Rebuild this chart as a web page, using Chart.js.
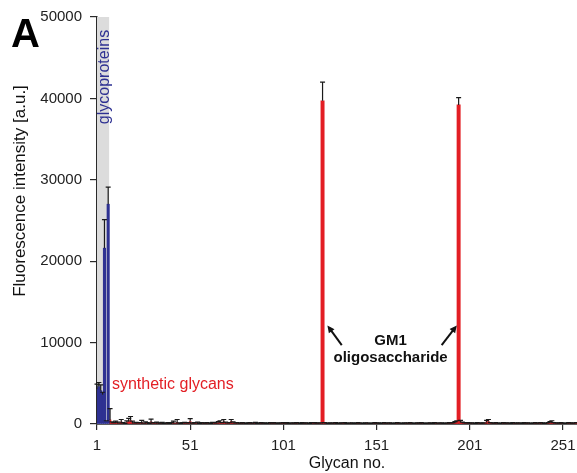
<!DOCTYPE html>
<html><head><meta charset="utf-8">
<script src="https://cdn.jsdelivr.net/npm/chart.js@4.4.1/dist/chart.umd.min.js"></script>
<style>html,body{margin:0;padding:0;background:#fff}#wrap{width:577px;height:473px}</style>
</head><body><div id="wrap"><canvas id="c" width="577" height="473"></canvas></div>
<script>
const xTickLabels = [1, 51, 101, 151, 201, 251];
const yTickLabels = [0, 10000, 20000, 30000, 40000, 50000];

const glycoproteinIds = [1, 2, 3, 4, 5, 6, 7];
const glycoproteinValues = [4300, 4600, 4100, 3600, 21600, 300, 27000];
const glycoproteinErrors = [600, 500, 700, 300, 3500, 100, 2100];

const syntheticFirstId = 8;
const syntheticValues = [
  500,150,80,200,120,60,250,90,40,180,
  300,420,150,70,110,60,90,200,50,130,
  80,40,260,90,60,120,70,50,100,30,
  60,90,40,80,150,60,200,70,40,90,
  110,60,80,300,50,90,60,120,40,80,
  70,50,90,60,40,110,80,60,150,200,
  90,250,120,60,80,300,140,70,90,60,
  50,80,60,40,70,90,50,60,110,40,
  60,80,50,70,40,60,90,50,80,60,
  40,70,60,90,50,80,40,60,70,50,
  90,60,40,80,50,70,60,40,90,60,
  80,50,60,70,null,90,60,40,70,50,
  60,80,40,50,70,60,90,40,60,50,
  70,40,60,80,50,60,40,70,60,50,
  40,60,90,50,70,40,60,80,50,60,
  70,50,40,60,80,50,60,40,70,60,
  50,80,60,40,60,70,50,90,60,40,
  60,50,70,40,80,60,50,60,70,40,
  60,50,80,60,90,150,200,null,250,120,
  80,60,90,50,70,60,40,80,60,50,
  70,60,250,300,90,60,50,80,60,40,
  60,80,50,70,60,40,90,60,50,70,
  60,40,80,50,70,60,40,60,80,50,
  60,90,70,40,60,80,150,200,90,60,
  70,50,80,60,40,60,90,70,50,60,
  80
];
const syntheticErrors = [
  1400,100,80,150,100,60,300,80,40,200,
  400,500,200,60,100,60,80,250,50,120,
  80,40,350,80,60,100,60,50,100,30,
  60,80,40,80,200,60,350,60,40,80,
  100,60,80,350,50,80,60,120,40,80,
  60,50,80,60,40,100,80,60,150,200,
  80,300,100,60,80,250,120,60,80,60,
  50,80,60,40,60,80,50,60,100,40,
  60,80,50,60,40,60,80,50,80,60,
  40,60,60,80,50,80,40,60,60,50,
  80,60,40,80,50,60,60,40,80,60,
  80,50,60,60,null,80,60,40,60,50,
  60,80,40,50,60,60,80,40,60,50,
  60,40,60,80,50,60,40,60,60,50,
  40,60,80,50,60,40,60,80,50,60,
  60,50,40,60,80,50,60,40,60,60,
  50,80,60,40,60,60,50,80,60,40,
  60,50,60,40,80,60,50,60,60,40,
  60,50,80,60,80,150,200,null,200,100,
  80,60,80,50,60,60,40,80,60,50,
  60,60,200,250,80,60,50,80,60,40,
  60,80,50,60,60,40,80,60,50,60,
  60,40,80,50,60,60,40,60,80,50,
  60,80,60,40,60,80,150,200,80,60,
  60,50,80,60,40,60,80,60,50,60,
  80
];

const gm1Ids = [122, 195];
const gm1Values = [39700, 39200];
const gm1Errors = [2300, 900];

const BLUE = '#2e3192', RED = '#e31e24', AXIS = '#2a2a2a';
const FONT = "'Liberation Sans', Arial, sans-serif";

const gpData = glycoproteinIds.map((id, i) => ({x: id, y: glycoproteinValues[i]}));
const synData = syntheticValues.map((v, i) => ({x: syntheticFirstId + i, y: v}));
const gmData = gm1Ids.map((id, i) => ({x: id, y: gm1Values[i]}));

const shadePlugin = {
  id: 'shade',
  beforeDatasetsDraw(chart) {
    const {ctx, chartArea: a, scales: {x}} = chart;
    const x1 = x.getPixelForValue(glycoproteinIds[glycoproteinIds.length - 1] + 0.5);
    ctx.save();
    ctx.fillStyle = '#dcdcdc';
    ctx.fillRect(a.left, a.top, x1 - a.left, a.bottom - a.top);
    ctx.restore();
  }
};

const errorPlugin = {
  id: 'errbars',
  afterDatasetsDraw(chart) {
    const {ctx, scales: {y}} = chart;
    ctx.save();
    ctx.strokeStyle = '#1a1a1a';
    ctx.lineWidth = 1.2;
    chart.data.datasets.forEach((ds, di) => {
      if (!ds.errors) return;
      const meta = chart.getDatasetMeta(di);
      meta.data.forEach((el, i) => {
        const v = ds.data[i].y, e = ds.errors[i];
        if (v == null || e == null) return;
        const yt = y.getPixelForValue(v + e);
        const yb = y.getPixelForValue(v);
        ctx.beginPath();
        ctx.moveTo(el.x, yb); ctx.lineTo(el.x, yt);
        ctx.moveTo(el.x - 2.5, yt); ctx.lineTo(el.x + 2.5, yt);
        ctx.stroke();
      });
    });
    ctx.restore();
  }
};

function arrow(ctx, x0, y0, x1, y1) {
  const ang = Math.atan2(y1 - y0, x1 - x0), h = 8;
  ctx.beginPath();
  ctx.moveTo(x0, y0); ctx.lineTo(x1 - 3 * Math.cos(ang), y1 - 3 * Math.sin(ang));
  ctx.stroke();
  ctx.beginPath();
  ctx.moveTo(x1, y1);
  ctx.lineTo(x1 - h * Math.cos(ang - 0.45), y1 - h * Math.sin(ang - 0.45));
  ctx.lineTo(x1 - h * Math.cos(ang + 0.45), y1 - h * Math.sin(ang + 0.45));
  ctx.closePath();
  ctx.fill();
}

const textPlugin = {
  id: 'texts',
  afterDraw(chart) {
    const {ctx, chartArea: a, scales: {x, y}} = chart;
    ctx.save();
    ctx.fillStyle = '#000';
    ctx.font = 'bold 40px ' + FONT;
    ctx.textAlign = 'left'; ctx.textBaseline = 'alphabetic';
    ctx.fillText('A', 11, 47);
    ctx.font = '17px ' + FONT;
    ctx.fillStyle = '#111';
    ctx.save();
    ctx.translate(20, 191); ctx.rotate(-Math.PI / 2);
    ctx.textAlign = 'center'; ctx.textBaseline = 'middle';
    ctx.fillText('Fluorescence intensity [a.u.]', 0, 0);
    ctx.restore();
    ctx.font = '16px ' + FONT;
    ctx.textAlign = 'center'; ctx.textBaseline = 'middle';
    ctx.fillText('Glycan no.', (a.left + a.right) / 2 + 10, 464);
    ctx.save();
    ctx.fillStyle = BLUE;
    ctx.font = '16px ' + FONT;
    ctx.translate(x.getPixelForValue(4.9), 77); ctx.rotate(-Math.PI / 2);
    ctx.textAlign = 'center'; ctx.textBaseline = 'middle';
    ctx.fillText('glycoproteins', 0, 0);
    ctx.restore();
    ctx.fillStyle = RED;
    ctx.font = '16px ' + FONT;
    ctx.textAlign = 'left'; ctx.textBaseline = 'alphabetic';
    ctx.fillText('synthetic glycans', x.getPixelForValue(9), y.getPixelForValue(4300));
    ctx.fillStyle = '#111';
    ctx.font = 'bold 15px ' + FONT;
    ctx.textAlign = 'center';
    const cx = x.getPixelForValue(158.5);
    ctx.fillText('GM1', cx, y.getPixelForValue(9680));
    ctx.fillText('oligosaccharide', cx, y.getPixelForValue(7600));
    ctx.strokeStyle = '#111'; ctx.fillStyle = '#111'; ctx.lineWidth = 2;
    arrow(ctx, x.getPixelForValue(132.3), y.getPixelForValue(9700), x.getPixelForValue(124.6), y.getPixelForValue(12100));
    arrow(ctx, x.getPixelForValue(185.9), y.getPixelForValue(9700), x.getPixelForValue(194.0), y.getPixelForValue(12100));
    ctx.restore();
  }
};

new Chart(document.getElementById('c'), {
  type: 'bar',
  data: {
    datasets: [
      {label: 'GM1', data: gmData, errors: gm1Errors, backgroundColor: RED, barThickness: 3.3, grouped: false},
      {label: 'glycoproteins', data: gpData, errors: glycoproteinErrors, backgroundColor: BLUE, barThickness: 2.4, grouped: false},
      {label: 'synthetic', data: synData, errors: syntheticErrors, backgroundColor: RED, barThickness: 1.9, grouped: false}
    ]
  },
  options: {
    responsive: false,
    animation: false,
    devicePixelRatio: 1,
    layout: {padding: {top: 16, right: 0, left: 0, bottom: 0}},
    plugins: {legend: {display: false}, tooltip: {enabled: false}},
    scales: {
      x: {
        type: 'linear', min: 1, max: 258.5, offset: false,
        afterBuildTicks(scale) { scale.ticks = xTickLabels.map(v => ({value: v})); },
        afterFit(scale) { scale.height = 49; scale.paddingRight = 0; scale.paddingLeft = 0; },
        grid: {display: true, offset: false, drawOnChartArea: false, drawTicks: true, tickLength: 6, color: AXIS, lineWidth: 1.2},
        border: {display: true, color: AXIS, width: 1.8},
        ticks: {font: {family: FONT, size: 15}, color: '#222', padding: 7, maxRotation: 0, autoSkip: false}
      },
      y: {
        min: 0, max: 50000,
        afterBuildTicks(scale) { scale.ticks = yTickLabels.map(v => ({value: v})); },
        afterFit(scale) { scale.width = 97; },
        grid: {display: true, drawOnChartArea: false, drawTicks: true, tickLength: 7, color: AXIS, lineWidth: 1.2},
        border: {display: true, color: AXIS, width: 1.5},
        ticks: {font: {family: FONT, size: 15}, color: '#222', padding: 8, callback: v => String(v)}
      }
    }
  },
  plugins: [shadePlugin, errorPlugin, textPlugin]
});
</script>
</body></html>
